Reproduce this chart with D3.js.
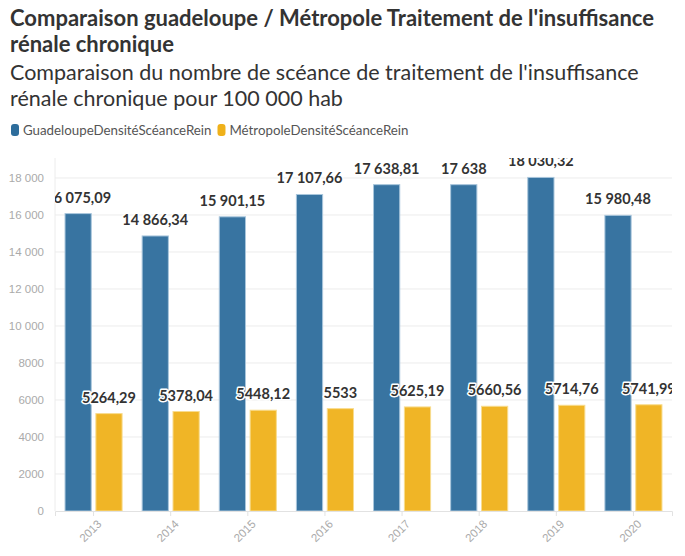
<!DOCTYPE html>
<html>
<head>
<meta charset="utf-8">
<script src="https://cdn.jsdelivr.net/npm/d3@7"></script>
<style>
  body { margin: 0; background: #fff; font-family: "Source Sans Pro", Lato, "Noto Sans", sans-serif; }
</style>
</head>
<body>
<div id="chart"></div>
<script>
var years = ["2013", "2014", "2015", "2016", "2017", "2018", "2019", "2020"];
var guadeloupe = [16075.09, 14866.34, 15901.15, 17107.66, 17638.81, 17638, 18030.32, 15980.48];
var metropole = [5264.29, 5378.04, 5448.12, 5533, 5625.19, 5660.56, 5714.76, 5741.99];
var seriesNames = ["GuadeloupeDensitéScéanceRein", "MétropoleDensitéScéanceRein"];
var yTicks = [0, 2000, 4000, 6000, 8000, 10000, 12000, 14000, 16000, 18000];

var colors = ["#2d6d9c", "#efb11a"];

// french style numbers: space grouping only from 10 000
function frNum(v) {
  var s = d3.format(".2~f")(v);
  var parts = s.split(".");
  var ent = parts[0];
  if (ent.length > 4) ent = ent.replace(/\B(?=(\d{3})+(?!\d))/g, " ");
  return parts.length > 1 ? ent + "," + parts[1] : ent;
}

var W = 685, H = 556;
var margin = {top: 158, right: 13, bottom: 45, left: 55};
var width = W - margin.left - margin.right,
    height = H - margin.top - margin.bottom;

var svg = d3.select("#chart").append("svg")
  .attr("width", W).attr("height", H);

// titles
var title = svg.append("text")
  .style("font-size", "22px").style("font-weight", "bold").style("fill", "#333");
title.append("tspan").attr("x", 10).attr("y", 26).text("Comparaison guadeloupe / Métropole Traitement de l'insuffisance");
title.append("tspan").attr("x", 10).attr("y", 52).text("rénale chronique");

var sub = svg.append("text").style("font-size", "21.5px").style("fill", "#333");
sub.append("tspan").attr("x", 10).attr("y", 80).text("Comparaison du nombre de scéance de traitement de l'insuffisance");
sub.append("tspan").attr("x", 10).attr("y", 106).text("rénale chronique pour 100 000 hab");

// legend
var lx = 11;
seriesNames.forEach(function(n, i) {
  var g = svg.append("g").attr("transform", "translate(" + lx + ",124)");
  g.append("rect").attr("width", 8).attr("height", 12).attr("rx", 3).style("fill", colors[i]);
  var t = g.append("text").attr("x", 12).attr("y", 10.5)
    .style("font-size", "13.3px").style("fill", "#555").text(n);
  lx += 12 + t.node().getComputedTextLength() + 6;
});

var g = svg.append("g").attr("transform", "translate(" + margin.left + "," + margin.top + ")");

var x = d3.scaleBand().domain(years).range([0, width]).paddingInner(0.26).paddingOuter(0.13);
var xs = d3.scaleBand().domain([0, 1]).range([0, x.bandwidth()]).paddingInner(0.15);
var y = d3.scaleLinear().domain([0, 19080]).range([height, 0]);

// grid
g.append("g").selectAll("line").data(yTicks.slice(1)).enter().append("line")
  .attr("x1", 0).attr("x2", width)
  .attr("y1", function(d) { return y(d); }).attr("y2", function(d) { return y(d); })
  .style("stroke", "#ececec");
g.append("line").attr("x1", 0).attr("x2", 0).attr("y1", 0).attr("y2", height).style("stroke", "#ececec");

// y axis
var yAxis = g.append("g").call(d3.axisLeft(y).tickValues(yTicks).tickSize(0).tickPadding(11).tickFormat(frNum));
yAxis.select(".domain").remove();
yAxis.selectAll("text").style("font-size", "11.5px").style("fill", "#aaa").style("font-family", "inherit");

// bars
var clip = svg.append("clipPath").attr("id", "plot").append("rect")
  .attr("width", width).attr("height", height + 2);
var plot = g.append("g").attr("clip-path", "url(#plot)");

var rows = years.map(function(yr, i) { return {year: yr, vals: [guadeloupe[i], metropole[i]]}; });

[0, 1].forEach(function(s) {
  plot.selectAll(".bar" + s).data(rows).enter().append("rect")
    .attr("x", function(d) { return x(d.year) + xs(s); })
    .attr("width", xs.bandwidth())
    .attr("y", function(d) { return y(d.vals[s]); })
    .attr("height", function(d) { return height - y(d.vals[s]); })
    .style("fill", colors[s]).style("fill-opacity", 0.95)
    .style("stroke", s === 0 ? "#a9c6dc" : "#f8dc8e").style("stroke-width", 1);
});

// x axis
var xAxis = g.append("g").attr("transform", "translate(0," + height + ")")
  .call(d3.axisBottom(x).tickSize(5).tickPadding(4));
xAxis.select(".domain").style("stroke", "#e2e2e2");
xAxis.selectAll(".tick line").style("stroke", "#e2e2e2");
xAxis.selectAll("text").style("font-size", "11.5px").style("fill", "#aaa").style("font-family", "inherit")
  .attr("text-anchor", "end").attr("dx", "-0.3em").attr("dy", "0.6em").attr("transform", "rotate(-45)");

// labels
[0, 1].forEach(function(s) {
  plot.selectAll(".lab" + s).data(rows).enter().append("text")
    .attr("x", function(d) { return x(d.year) + xs(s) + xs.bandwidth() / 2; })
    .attr("y", function(d) { return y(d.vals[s]) - 11; })
    .attr("text-anchor", "middle")
    .style("font-size", "14.5px").style("font-weight", "bold")
    .style("fill", "#333")
    .style("paint-order", "stroke").style("stroke", "#fff").style("stroke-width", 3).style("stroke-linejoin", "round")
    .text(function(d) { return frNum(d.vals[s]); });
});
</script>
</body>
</html>
